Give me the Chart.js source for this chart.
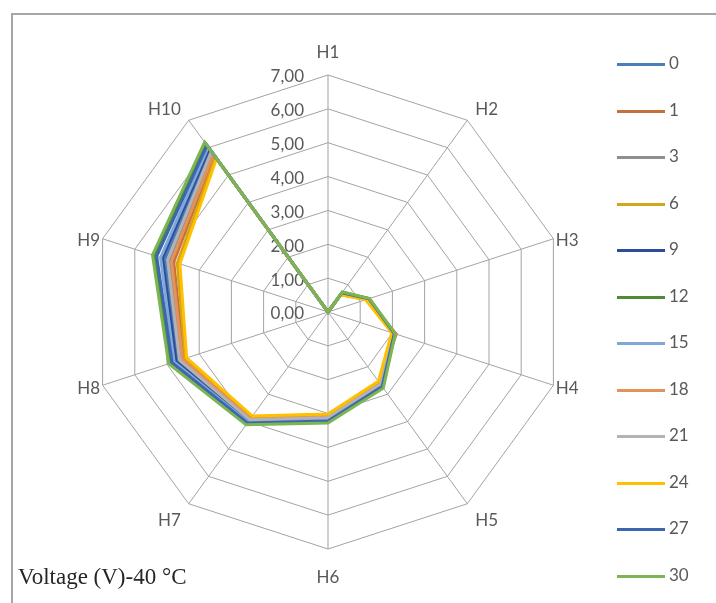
<!DOCTYPE html>
<html>
<head>
<meta charset="utf-8">
<script src="https://cdn.jsdelivr.net/npm/chart.js@4.4.1/dist/chart.umd.min.js"></script>
<style>
  html, body { margin: 0; padding: 0; background: #fff; overflow: hidden; }
  #wrap { position: relative; width: 716px; height: 603px; overflow: hidden; }
  #marco { position: absolute; left: 11px; top: 13px; width: 800px; height: 700px; border: 2px solid #a6a6a6; box-sizing: border-box; }
  #grafica { position: absolute; left: 0; top: 0; }
  #leyenda { position: absolute; left: 617px; top: 0; margin: 0; padding: 0; list-style: none; font-family: Lato, sans-serif; font-size: 17px; color: #595959; }
  #leyenda li { position: absolute; left: 0; height: 20px; line-height: 20px; white-space: nowrap; }
  #leyenda .linea { display: inline-block; width: 48px; height: 3px; vertical-align: middle; margin-right: 4px; }
  #titulo { position: absolute; left: 18px; top: 564px; font-family: 'Liberation Serif', serif; font-size: 23px; color: #262626; white-space: nowrap; }
</style>
</head>
<body>
<div id="wrap">
  <div id="marco"></div>
  <canvas id="grafica" width="716" height="603"></canvas>
  <ul id="leyenda"></ul>
  <div id="titulo">Voltage (V)-40 °C</div>
</div>
<script>
// ejes del radar y etiquetas de la escala
var ejes = ['H1', 'H2', 'H3', 'H4', 'H5', 'H6', 'H7', 'H8', 'H9', 'H10'];
var etiquetasEje = ['0,00', '1,00', '2,00', '3,00', '4,00', '5,00', '6,00', '7,00'];

// series (horas)
var horas = ['0', '1', '3', '6', '9', '12', '15', '18', '21', '24', '27', '30'];

// voltajes, H1..H10
var v0  = [0, 0.68, 1.23, 2.02, 2.66, 3.14, 3.96, 4.66, 5.06, 5.92];
var v1  = [0, 0.65, 1.20, 2.12, 2.58, 3.05, 3.86, 4.48, 4.79, 5.71];
var v3  = [0, 0.66, 1.21, 2.04, 2.62, 3.10, 3.90, 4.56, 4.92, 5.81];
var v6  = [0, 0.64, 1.19, 2.05, 2.55, 3.03, 3.83, 4.43, 4.68, 5.65];
var v9  = [0, 0.69, 1.24, 2.03, 2.68, 3.16, 3.99, 4.72, 5.14, 5.97];
var v12 = [0, 0.72, 1.28, 2.08, 2.75, 3.25, 4.08, 4.90, 5.38, 6.14];
var v15 = [0, 0.69, 1.25, 2.04, 2.70, 3.19, 4.02, 4.78, 5.20, 6.02];
var v18 = [0, 0.66, 1.22, 2.10, 2.61, 3.07, 3.88, 4.52, 4.86, 5.76];
var v21 = [0, 0.67, 1.22, 2.03, 2.64, 3.12, 3.93, 4.61, 4.98, 5.86];
var v24 = [0, 0.63, 1.17, 1.98, 2.53, 3.01, 3.80, 4.39, 4.60, 5.60];
var v27 = [0, 0.70, 1.27, 2.06, 2.72, 3.22, 4.05, 4.84, 5.32, 6.08];
var v30 = [0, 0.73, 1.29, 2.09, 2.78, 3.28, 4.12, 4.95, 5.45, 6.20];

var valores = [v0, v1, v3, v6, v9, v12, v15, v18, v21, v24, v27, v30];

var colores = ['#4A7EBB', '#C8703B', '#8F8F8F', '#D4A517', '#2E4C9B', '#4D8B34',
               '#7FA8D8', '#E59258', '#B3B3B3', '#FFC000', '#3C67B0', '#7CB552'];

// textos de la escala y de los ejes colocados como en Excel
var etiquetasPlugin = {
    id: 'etiquetasEje',
    beforeDatasetsDraw: function (chart) {
        var r = chart.scales.r;
        var c = chart.ctx;
        c.save();
        c.font = '17px Lato';
        c.fillStyle = '#595959';
        c.textBaseline = 'middle';

        // 0,00 ... 7,00 a la izquierda del eje H1
        c.textAlign = 'right';
        r.ticks.forEach(function (t, i) {
            var d = r.getDistanceFromCenterForValue(t.value);
            c.fillText(etiquetasEje[i], r.xCenter - 24, r.yCenter - d + 2);
        });

        // H1 ... H10 fuera del decagono
        chart.data.labels.forEach(function (txt, i) {
            var a = r.getIndexAngle(i);
            var s = Math.sin(a), co = Math.cos(a);
            var p = r.getPointPosition(i, r.drawingArea);
            var gx = 11 * Math.abs(co) - 1;
            var x = p.x;
            if (s > 0.1) { c.textAlign = 'left'; x += gx; }
            else if (s < -0.1) { c.textAlign = 'right'; x -= gx; }
            else { c.textAlign = 'center'; }
            c.fillText(txt, x, p.y + 3 - 25.5 * co * co * co);
        });
        c.restore();
    }
};

var ctx = document.getElementById('grafica').getContext('2d');
var grafica = new Chart(ctx, {
    type: 'radar',
    data: {
        labels: ejes,
        datasets: horas.map(function (h, i) {
            return {
                label: h,
                data: valores[i],
                borderColor: colores[i],
                backgroundColor: colores[i],
                borderWidth: 3,
                pointRadius: 0,
                fill: false,
                order: horas.length - i   // la ultima serie queda encima
            };
        })
    },
    options: {
        responsive: false,
        animation: false,
        layout: { padding: { left: 60, right: 120, top: 75, bottom: 54 } },
        plugins: {
            legend: { display: false },
            tooltip: { enabled: false }
        },
        scales: {
            r: {
                min: 0,
                max: 7,
                ticks: { stepSize: 1, display: false },
                grid: { color: '#A3A3A3', lineWidth: 1 },
                angleLines: { color: '#A3A3A3', lineWidth: 1 },
                pointLabels: { display: false }
            }
        }
    },
    plugins: [etiquetasPlugin]
});

// leyenda a la derecha, una entrada por serie
var leyenda = document.getElementById('leyenda');
grafica.data.datasets.forEach(function (ds, i) {
    var li = document.createElement('li');
    li.style.top = (53 + i * 46.5) + 'px';
    var linea = document.createElement('span');
    linea.className = 'linea';
    linea.style.background = ds.borderColor;
    li.appendChild(linea);
    li.appendChild(document.createTextNode(ds.label));
    leyenda.appendChild(li);
});
</script>
</body>
</html>
